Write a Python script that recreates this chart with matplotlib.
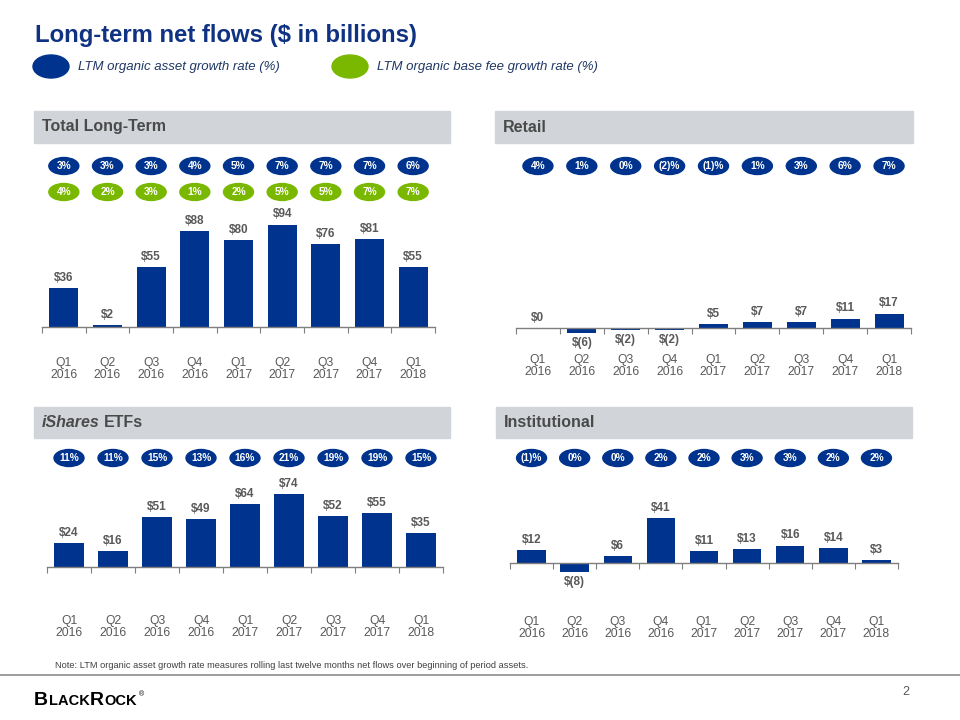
import numpy as np
import matplotlib.pyplot as plt
import matplotlib.transforms as mtransforms
from matplotlib.patches import Ellipse, Rectangle
from matplotlib.lines import Line2D

plt.rcParams['font.family'] = ['Liberation Sans', 'DejaVu Sans']

# ---- data ----
quarters = ['Q1\n2016', 'Q2\n2016', 'Q3\n2016', 'Q4\n2016', 'Q1\n2017',
            'Q2\n2017', 'Q3\n2017', 'Q4\n2017', 'Q1\n2018']

total_flows = [36, 2, 55, 88, 80, 94, 76, 81, 55]
total_asset_growth = ['3%', '3%', '3%', '4%', '5%', '7%', '7%', '7%', '6%']
total_fee_growth = ['4%', '2%', '3%', '1%', '2%', '5%', '5%', '7%', '7%']

retail_flows = [0, -6, -2, -2, 5, 7, 7, 11, 17]
retail_asset_growth = ['4%', '1%', '0%', '(2)%', '(1)%', '1%', '3%', '6%', '7%']

ishares_flows = [24, 16, 51, 49, 64, 74, 52, 55, 35]
ishares_asset_growth = ['11%', '11%', '15%', '13%', '16%', '21%', '19%', '19%', '15%']

inst_flows = [12, -8, 6, 41, 11, 13, 16, 14, 3]
inst_asset_growth = ['(1)%', '0%', '0%', '2%', '2%', '3%', '3%', '2%', '2%']

# ---- style ----
BLUE = '#00338D'
GREEN = '#7AB800'
BAND = '#D1D5DA'
GRAY_TXT = '#595959'
HEAD_TXT = '#4A4A4A'
TITLE_BLUE = '#0F3282'

W, H = 960, 720
fig = plt.figure(figsize=(W / 100, H / 100), dpi=100)


def fx(px):
    return px / W


def fy(py):
    return 1 - py / H


def money(v):
    return f'${v}' if v >= 0 else f'$({-v})'


def panel(x0, x1, band, title, zero_y, scale, flows, asset, fee, ell_y, lab_y,
          italic_word=None):
    # header band
    bx0, bx1, by0, by1 = band
    fig.patches.append(Rectangle((fx(bx0), fy(by1)), (bx1 - bx0) / W, (by1 - by0) / H,
                                 transform=fig.transFigure, color=BAND, zorder=0))
    ty = fy((by0 + by1) / 2)
    if italic_word:
        t = fig.text(fx(bx0 + 8), ty, italic_word, fontsize=11.5, fontweight='bold',
                     style='italic', color=HEAD_TXT, va='center')
        fig.canvas.draw()
        bb = t.get_window_extent()
        fig.text(bb.x1 / W + 4 / W, ty, title, fontsize=11.5, fontweight='bold',
                 color=HEAD_TXT, va='center')
    else:
        fig.text(fx(bx0 + 8), ty, title, fontsize=11.5, fontweight='bold',
                 color=HEAD_TXT, va='center')

    top = zero_y - 130
    bottom = zero_y + 25
    ax = fig.add_axes([fx(x0), fy(bottom), (x1 - x0) / W, (bottom - top) / H])
    ax.patch.set_alpha(0)
    n = len(flows)
    xs = np.arange(n) + 0.5
    ax.set_xlim(0, n)
    ax.set_ylim(-(bottom - zero_y) / scale, (zero_y - top) / scale)
    ax.bar(xs, flows, width=0.66, color=BLUE, zorder=2)

    for s in ['left', 'right', 'top']:
        ax.spines[s].set_visible(False)
    ax.spines['bottom'].set_position(('data', 0))
    ax.spines['bottom'].set_color('#7F7F7F')
    ax.spines['bottom'].set_linewidth(1)
    ax.set_yticks([])
    ax.set_xticks(np.arange(n + 1))
    ax.tick_params(axis='x', direction='out', length=4, color='#7F7F7F',
                   labelbottom=False)

    for x, v in zip(xs, flows):
        if v >= 0:
            ax.annotate(money(v), (x, v), xytext=(0, 3), textcoords='offset points',
                        ha='center', va='bottom', fontsize=8.5, fontweight='bold',
                        color=GRAY_TXT)
        else:
            ax.annotate(money(v), (x, v), xytext=(0, -3), textcoords='offset points',
                        ha='center', va='top', fontsize=8.5, fontweight='bold',
                        color=GRAY_TXT)

    blend = mtransforms.blended_transform_factory(ax.transData, fig.transFigure)
    catw = (x1 - x0) / n
    rows = [(asset, BLUE, ell_y[0])]
    if fee is not None:
        rows.append((fee, GREEN, ell_y[1]))
    for labels, col, ey in rows:
        for x, s in zip(xs, labels):
            ax.add_patch(Ellipse((x, fy(ey)), width=30 / catw, height=17 / H,
                                 transform=blend, color=col, clip_on=False))
            ax.text(x, fy(ey), s, transform=blend, ha='center', va='center',
                    fontsize=7.3, fontweight='bold', color='white')

    for x, q in zip(xs, quarters):
        ax.text(x, fy(lab_y), q, transform=blend, ha='center', va='center',
                fontsize=8.7, color=GRAY_TXT, linespacing=1.1)
    return ax


# title and legend
fig.text(fx(35), fy(42), 'Long-term net flows ($ in billions)', fontsize=17.2,
         fontweight='bold', color=TITLE_BLUE, va='baseline')
fig.patches.append(Ellipse((fx(51), fy(66.5)), 36 / W, 23 / H, transform=fig.transFigure,
                           color=BLUE))
fig.text(fx(78), fy(67), 'LTM organic asset growth rate (%)', fontsize=9.5,
         style='italic', color='#1F3864', va='center')
fig.patches.append(Ellipse((fx(350), fy(66.5)), 36 / W, 23 / H, transform=fig.transFigure,
                           color=GREEN))
fig.text(fx(377), fy(67), 'LTM organic base fee growth rate (%)', fontsize=9.5,
         style='italic', color='#1F3864', va='center')

panel(42, 435, (34, 450, 111, 143), 'Total Long-Term', 327, 1.09,
      total_flows, total_asset_growth, total_fee_growth, (166, 192), 369)
panel(516, 911, (495, 913, 111, 143), 'Retail', 328, 0.85,
      retail_flows, retail_asset_growth, None, (166,), 366)
panel(47, 443, (34, 450, 407, 438), 'ETFs', 567, 0.98,
      ishares_flows, ishares_asset_growth, None, (458,), 627, italic_word='iShares')
panel(510, 898, (496, 912, 407, 438), 'Institutional', 563, 1.09,
      inst_flows, inst_asset_growth, None, (458,), 628)

# footer
fig.text(fx(55), fy(666), 'Note: LTM organic asset growth rate measures rolling last twelve '
         'months net flows over beginning of period assets.', fontsize=6.7,
         color='#404040', va='center')
fig.lines.append(Line2D([0, 1], [fy(675), fy(675)], transform=fig.transFigure,
                        color='#8C8C8C', linewidth=1.2))

# BlackRock wordmark in small caps
x = 34
fig.canvas.draw()
for part, size in [('B', 14), ('LACK', 10.5), ('R', 14), ('OCK', 10.5)]:
    t = fig.text(fx(x), fy(705), part, fontsize=size, fontweight='bold', color='black',
                 va='baseline')
    fig.canvas.draw()
    x = t.get_window_extent().x1 + 0.5
fig.text(fx(x + 1), fy(696), '®', fontsize=5, color='black', va='baseline')

fig.text(fx(906), fy(692), '2', fontsize=9, color=GRAY_TXT, ha='center', va='center')

fig.savefig('out.png', dpi=100)
